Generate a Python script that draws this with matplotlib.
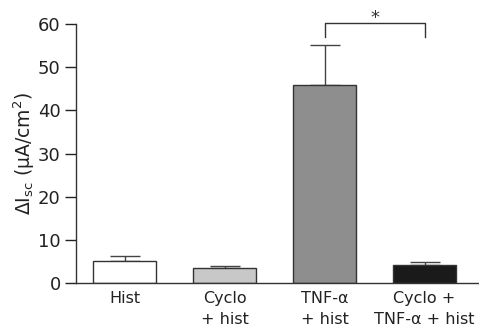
import matplotlib
matplotlib.use("Agg")
import matplotlib.pyplot as plt

groups = ["Hist", "Cyclo\n+ hist", "TNF-\u03b1\n+ hist", "Cyclo +\nTNF-\u03b1 + hist"]
means = [5.1, 3.5, 45.9, 4.2]
errs = [1.1, 0.5, 9.3, 0.6]
colors = ["white", "#c8c8c8", "#8e8e8e", "#1a1a1a"]

plt.rcParams["font.family"] = ["DejaVu Sans"]
fig = plt.figure(figsize=(4.79, 3.29), dpi=100)
ax = fig.add_axes([0.1587, 0.1398, 0.8413, 0.7872])

x = range(len(groups))
ax.bar(x, means, width=0.63, color=colors, edgecolor="#333333", linewidth=1.0, zorder=2)
ax.errorbar(x, means, yerr=[[0] * len(errs), errs], fmt="none", ecolor="#444444",
            elinewidth=1.0, capsize=11, capthick=1.0, zorder=1)

# significance bracket
ax.plot([2, 2, 3, 3], [57.0, 60.2, 60.2, 57.0], color="#333333", lw=1.0, clip_on=False)
ax.text(2.5, 59.3, "*", ha="center", va="bottom", fontsize=13, color="#333333")

ax.set_xlim(-0.485, 3.545)
ax.set_ylim(0, 60)
ax.set_yticks(range(0, 61, 10))
ax.set_xticks(list(x))
ax.set_xticklabels(groups, fontsize=11.5, color="#222222", linespacing=1.45)
ax.tick_params(axis="x", length=0, pad=6)
ax.tick_params(axis="y", length=8, width=1.0, labelsize=13, colors="#222222", pad=3)
ax.set_ylabel("\u0394I$_{\\rm sc}$ (\u03bcA/cm$^2$)", fontsize=13.5, color="#222222", labelpad=1)
for s in ["top", "right"]:
    ax.spines[s].set_visible(False)
for s in ["left", "bottom"]:
    ax.spines[s].set_color("#333333")
    ax.spines[s].set_linewidth(1.0)

fig.savefig("out.png", dpi=100)
